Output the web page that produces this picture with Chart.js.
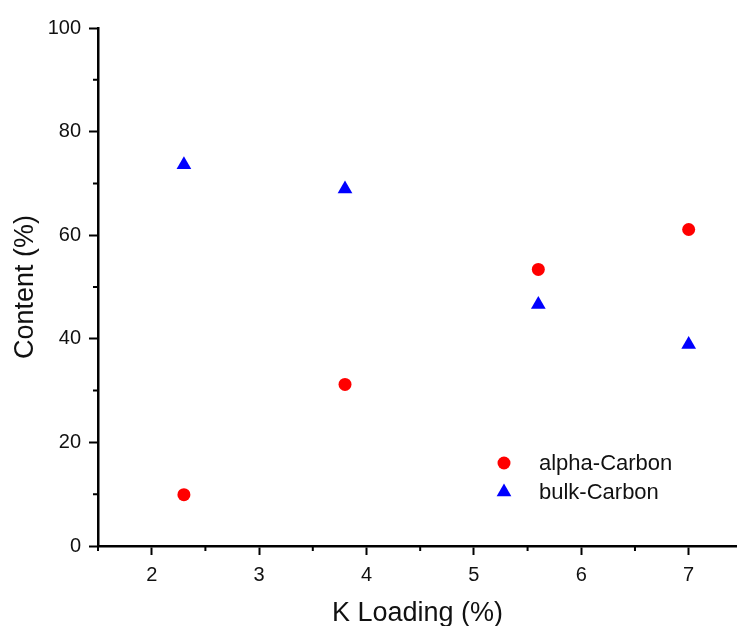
<!DOCTYPE html>
<html lang="en">
<head>
   <meta charset="UTF-8">
   <title>Carbon content vs K loading</title>
   <script src="https://cdn.jsdelivr.net/npm/chart.js"></script>
   <style>
      html, body { margin: 0; padding: 0; background: #fff; }
      #wrap { width: 737px; height: 626px; }
   </style>
</head>
<body>
   <div id="wrap"><canvas id="scatter-chart"></canvas></div>

   <script>
      // K loading (%) for each sample
      const kLoading = [2.3, 3.8, 5.6, 7.0];
      // carbon content (%) per sample
      const alphaCarbon = [9.9, 31.2, 53.4, 61.1];
      const bulkCarbon = [73.6, 68.9, 46.6, 38.9];
      const seriesNames = ["alpha-Carbon", "bulk-Carbon"];
      const xTickValues = [2, 3, 4, 5, 6, 7];
      const xMinorValues = [1.5, 2.5, 3.5, 4.5, 5.5, 6.5, 7.5];
      const yMinorValues = [10, 30, 50, 70, 90];

      const font = "'Liberation Sans', Arial, sans-serif";

      // short minor ticks between the labelled ones
      const minorTicks = {
         id: 'minorTicks',
         afterDraw(chart) {
            const ctx = chart.ctx;
            const xs = chart.scales.x, ys = chart.scales.y;
            ctx.save();
            ctx.strokeStyle = '#000';
            ctx.lineWidth = 2;
            ctx.beginPath();
            xMinorValues.forEach(v => {
               const px = xs.getPixelForValue(v);
               if (px < xs.left - 1 || px > xs.right + 1) return;
               ctx.moveTo(px, xs.top);
               ctx.lineTo(px, xs.top + 5);
            });
            yMinorValues.forEach(v => {
               const py = ys.getPixelForValue(v);
               ctx.moveTo(ys.right, py);
               ctx.lineTo(ys.right - 5, py);
            });
            ctx.stroke();
            ctx.restore();
         }
      };

      // legend box inside the plot
      const innerLegend = {
         id: 'innerLegend',
         afterDraw(chart) {
            const ctx = chart.ctx;
            const area = chart.chartArea;
            const x0 = area.left + 406, y0 = area.top + 435, rowH = 29;
            ctx.save();
            chart.data.datasets.forEach((ds, i) => {
               const cy = y0 + i * rowH;
               ctx.fillStyle = ds.backgroundColor;
               ctx.beginPath();
               if (ds.pointStyle === 'triangle') {
                  const r = ds.pointRadius;
                  ctx.moveTo(x0, cy - r);
                  ctx.lineTo(x0 + Math.sin(2 * Math.PI / 3) * r, cy + r / 2);
                  ctx.lineTo(x0 - Math.sin(2 * Math.PI / 3) * r, cy + r / 2);
                  ctx.closePath();
               } else {
                  ctx.arc(x0, cy, ds.pointRadius, 0, Math.PI * 2);
               }
               ctx.fill();
               ctx.fillStyle = '#111';
               ctx.font = "22px " + font;
               ctx.textBaseline = 'middle';
               ctx.fillText(ds.label, x0 + 35, cy + 1);
            });
            ctx.restore();
         }
      };

      new Chart(document.getElementById("scatter-chart"), {
         type: 'scatter',
         data: {
            datasets: [
               {
                  label: seriesNames[0],
                  data: kLoading.map((k, i) => ({ x: k, y: alphaCarbon[i] })),
                  backgroundColor: '#ff0000',
                  borderWidth: 0,
                  pointStyle: 'circle',
                  pointRadius: 6.5,
                  pointHoverRadius: 6.5
               },
               {
                  label: seriesNames[1],
                  data: kLoading.map((k, i) => ({ x: k, y: bulkCarbon[i] })),
                  backgroundColor: '#0000ff',
                  borderWidth: 0,
                  pointStyle: 'triangle',
                  pointRadius: 8.5,
                  pointHoverRadius: 8.5
               }
            ]
         },
         options: {
            responsive: true,
            maintainAspectRatio: false,
            animation: false,
            layout: { autoPadding: false, padding: { top: 28, right: 0, left: 0, bottom: 0 } },
            plugins: {
               legend: { display: false },
               tooltip: { enabled: false }
            },
            scales: {
               x: {
                  type: 'linear',
                  min: 1.5,
                  max: 7.45,
                  afterBuildTicks: scale => {
                     scale.ticks = xTickValues.map(v => ({ value: v }));
                  },
                  afterFit: scale => {
                     scale.height = 80;
                     scale.paddingLeft = 0;
                     scale.paddingRight = 0;
                  },
                  grid: {
                     drawOnChartArea: false,
                     drawTicks: true,
                     tickLength: 9,
                     tickWidth: 2,
                     tickColor: '#000'
                  },
                  border: { display: true, color: '#000', width: 2.5 },
                  ticks: {
                     color: '#111',
                     padding: 8,
                     maxRotation: 0,
                     font: { family: font, size: 20 }
                  },
                  title: {
                     display: true,
                     text: 'K Loading (%)',
                     color: '#111',
                     padding: { top: 0, bottom: -4 },
                     font: { family: font, size: 27 }
                  }
               },
               y: {
                  min: 0,
                  max: 100,
                  afterFit: scale => { scale.width = 98; },
                  grid: {
                     drawOnChartArea: false,
                     drawTicks: true,
                     tickLength: 9,
                     tickWidth: 2,
                     tickColor: '#000'
                  },
                  border: { display: true, color: '#000', width: 2.5 },
                  ticks: {
                     stepSize: 20,
                     color: '#111',
                     padding: 8,
                     font: { family: font, size: 20 }
                  },
                  title: {
                     display: true,
                     text: 'Content (%)',
                     color: '#111',
                     padding: { top: 9, bottom: 0 },
                     font: { family: font, size: 27 }
                  }
               }
            }
         },
         plugins: [minorTicks, innerLegend]
      });
   </script>
</body>
</html>
